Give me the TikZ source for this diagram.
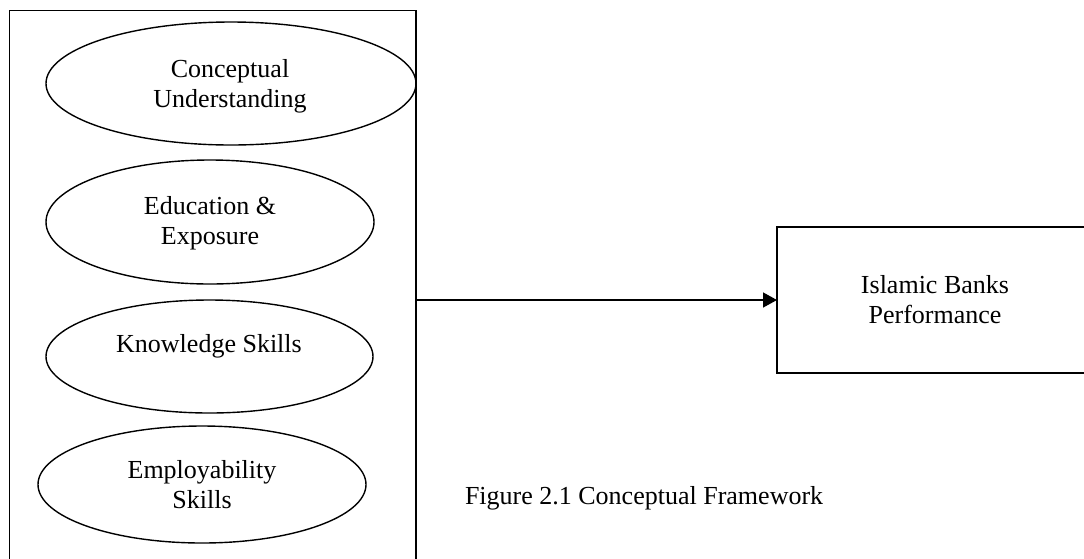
\documentclass[tikz,border=0pt]{standalone}
\usepackage{fontspec}
\setmainfont{Liberation Serif}
\usetikzlibrary{shapes.geometric,arrows.meta}
\begin{document}
\begin{tikzpicture}[x=1pt,y=-1pt,
  every node/.style={inner sep=0pt, outer sep=0pt},
  lbl/.style={font=\fontsize{26}{30}\selectfont, align=center},
  oval/.style={draw, line width=1.4pt, ellipse},
  boxx/.style={draw, line width=1.4pt, rectangle},
  conn/.style={line width=1.4pt, -{Triangle[length=14pt,width=15pt]}}]
\useasboundingbox (0,0) rectangle (1084,558);
\clip (0,0) rectangle (1084,558);
\fill[white] (0,0) rectangle (1084,558);
% left group box
\node[boxx, minimum width=406.5pt, minimum height=600pt] (grp) at (212.75,310.5) {};
% ellipses
\node[oval, minimum width=370pt, minimum height=123pt] (e1) at (231,83.5) {};
\node[oval, minimum width=328pt, minimum height=124pt] (e2) at (210,222) {};
\node[oval, minimum width=327pt, minimum height=113pt] (e3) at (209.5,356.5) {};
\node[oval, minimum width=328pt, minimum height=117pt] (e4) at (202,484.5) {};
% labels (base = baseline of last line)
\node[lbl, anchor=base] (t1) at (230,107) {Conceptual\\Understanding};
\node[lbl, anchor=base] (t2) at (210,244) {Education \&\\Exposure};
\node[lbl, anchor=base] (t3) at (209,352) {Knowledge Skills};
\node[lbl, anchor=base] (t4) at (202,508) {Employability\\Skills};
% right box
\node[boxx, lbl, minimum width=316pt, minimum height=146pt] (perf) at (935,300) {Islamic Banks\\Performance};
% connector
\draw[conn] (grp.east |- perf.west) -- (perf.west);
% caption
\node[lbl, anchor=base west] (cap) at (465,504) {Figure 2.1 Conceptual Framework};
\end{tikzpicture}
\end{document}
